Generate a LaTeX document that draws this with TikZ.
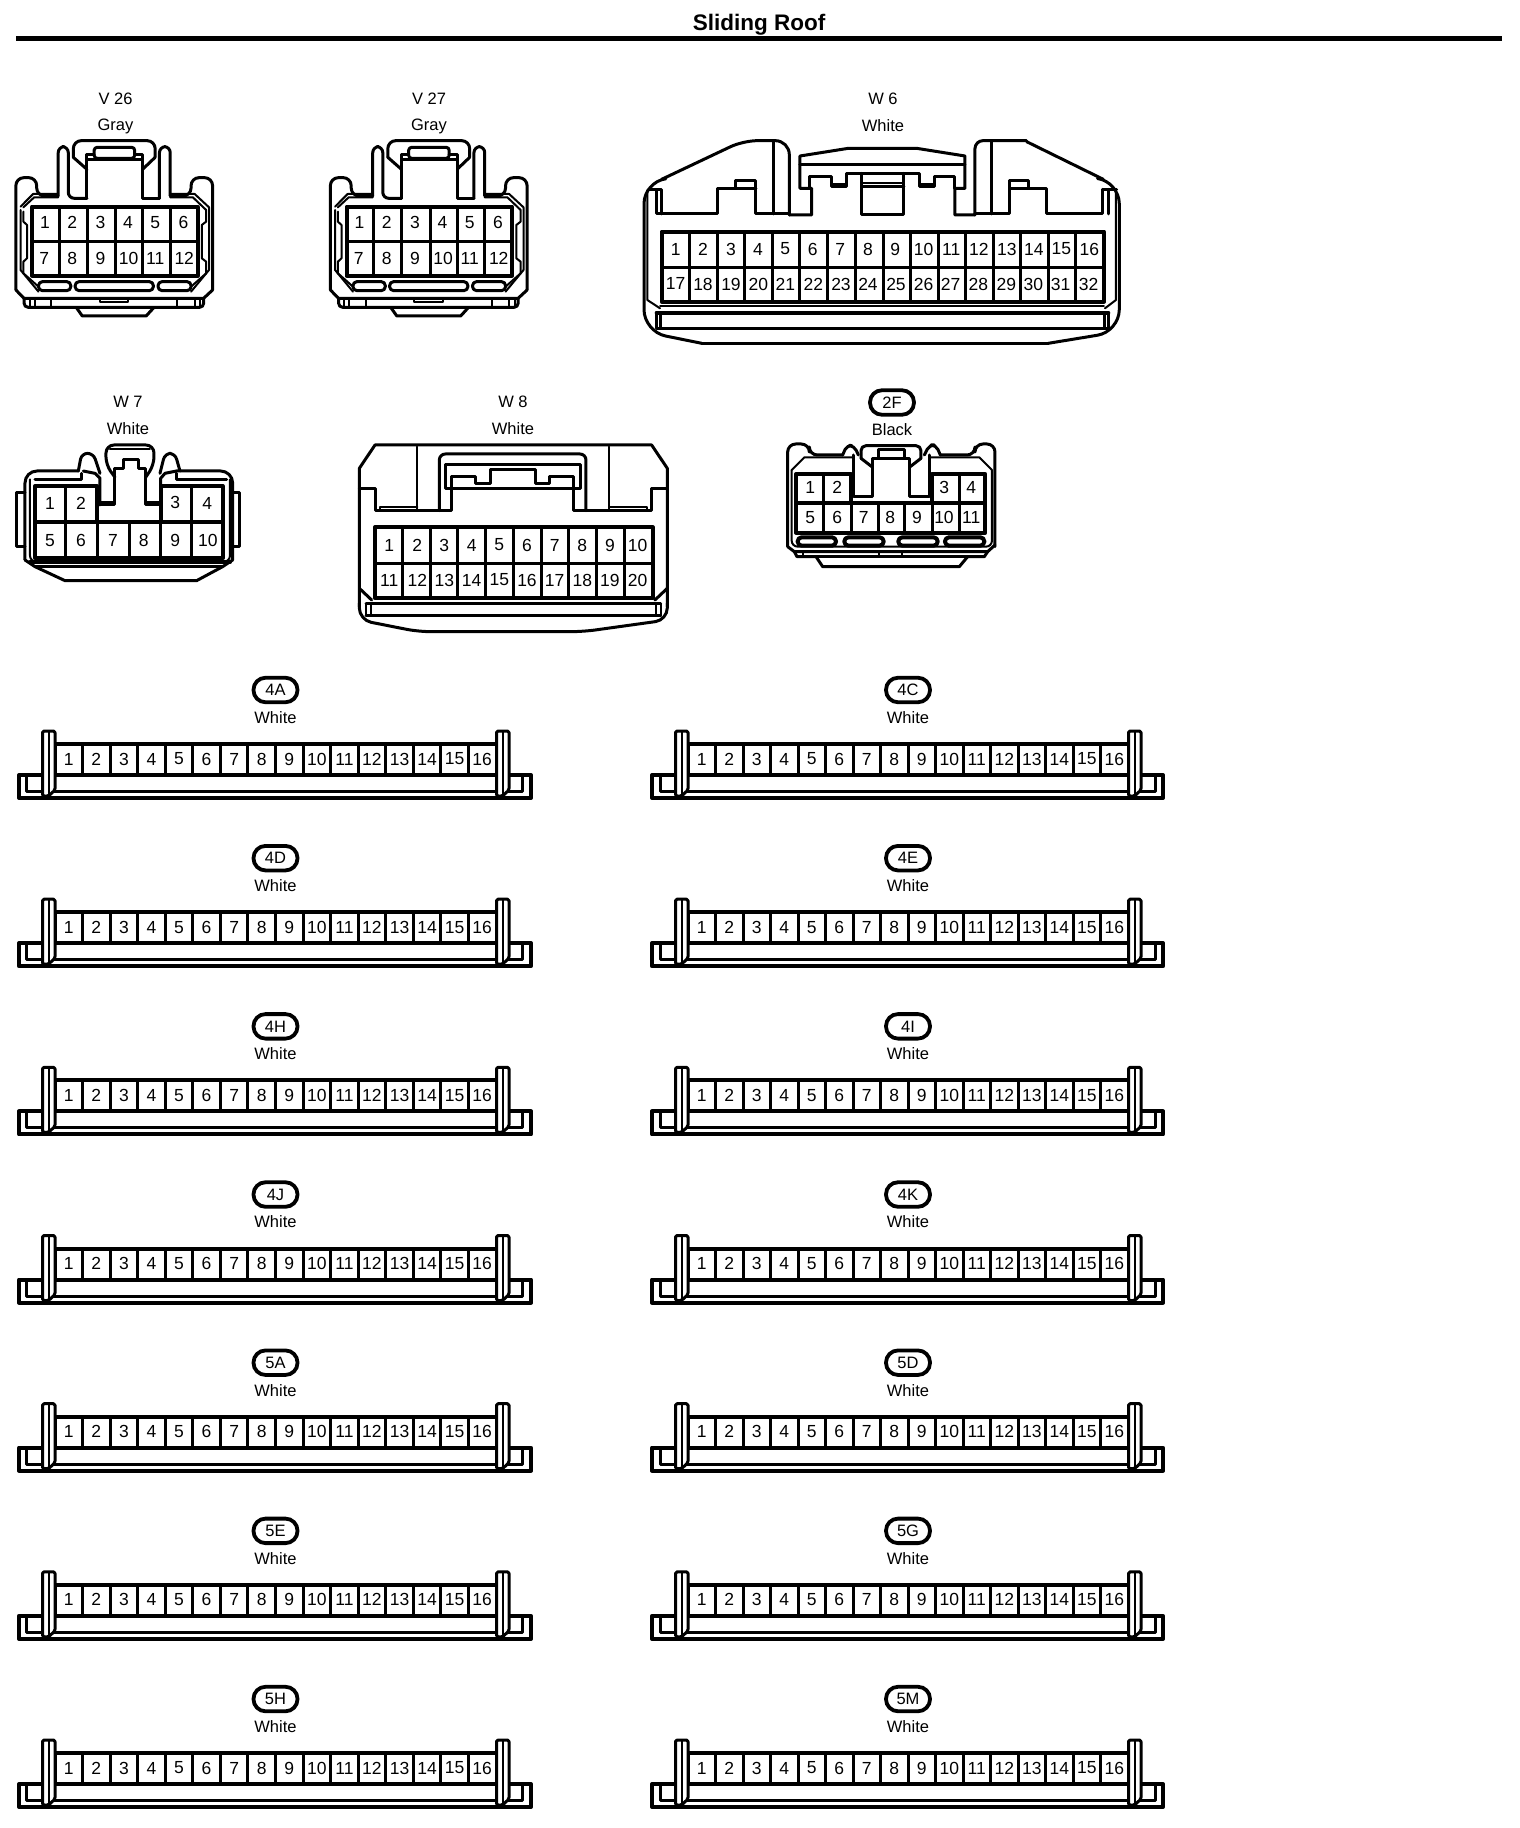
\documentclass[tikz,border=0pt]{standalone}
\usepackage{fontspec}
\setmainfont{Liberation Sans}
\newcommand{\numf}{\fontsize{17.5}{18}\selectfont}
\newcommand{\labf}{\fontsize{16.5}{18}\selectfont}
\newcommand{\titf}{\fontsize{22.5}{24}\selectfont\bfseries}
\tikzset{
  wire/.style={line width=3pt,line join=round,line cap=round},
  fine/.style={line width=2pt,line join=round,line cap=round},
  heavy/.style={line width=4pt,line join=round,line cap=round},
  num/.style={font=\numf,inner sep=0pt,text=black},
  lab/.style={font=\labf,inner sep=0pt,text=black},
  capsule/.style={draw,line width=3.8pt,rounded corners=12pt,minimum width=44pt,minimum height=24.5pt,inner sep=0pt,font=\labf},
  slot/.style={wire,rounded corners=4pt},
}
% grid cell numbers: name, list of centre x, y, start number
\newcommand{\numrow}[4]{\foreach \cx [count=\ci from #4] in {#2} {\node[num] (#1-\ci) at (\cx,#3) {\ci};}}
% small connector V26/V27
\newcommand{\vcon}[3]{%
\begin{scope}[shift={(#2pt,-70pt)},x=0.359pt,y=-0.3333pt]
 % outer housing
 \draw[wire,rounded corners=8pt] (47,660)--(47,323)--(105,323)--(105,378)--(165,378);
 \draw[wire,rounded corners=6pt] (165,378)--(165,230)--(193,230)--(193,385)--(245,385);
 \draw[wire] (245,385)--(245,270)--(400,270)--(400,385)--(447,385);
 \draw[wire,rounded corners=6pt] (447,385)--(447,230)--(477,230)--(477,378);
 \draw[wire,rounded corners=8pt] (477,378)--(535,378)--(535,323)--(595,323)--(595,660);
 \draw[wire,rounded corners=8pt] (207,262)--(207,212)--(435,212)--(435,262);
 \draw[wire] (207,262)--(245,298) (435,262)--(400,298);
 \draw[wire] (245,270)--(245,255)--(265,255) (378,255)--(400,255)--(400,270);
 \draw[wire,rounded corners=3pt] (265,232) rectangle (378,265);
 % inner shell
 \draw[fine] (60,420)--(60,600)--(110,665);
 \draw[fine] (68,425)--(68,455)--(78,465)--(78,565)--(68,575)--(68,610)--(110,650);
 \draw[fine] (60,410)--(95,372)--(165,372) (477,372)--(545,372)--(585,412)--(585,600)--(535,665);
 \draw[fine] (68,412)--(98,382)--(165,382) (477,382)--(540,382)--(577,420)--(577,455)--(565,465)--(565,565)--(577,575)--(577,610)--(535,650);
 \draw[wire] (47,660)--(70,685)--(570,685)--(595,660);
 % slots
 \draw[slot] (110,635) rectangle (200,662);
 \draw[slot] (212,635) rectangle (430,662);
 \draw[slot] (443,635) rectangle (535,662);
 % base
 \draw[wire,rounded corners=4pt] (70,685)--(70,712)--(570,712)--(570,685);
 \draw[fine] (85,685)--(85,712) (100,685)--(100,712) (145,685)--(145,712) (497,685)--(497,712) (545,685)--(545,712) (560,685)--(560,712);
 \draw[fine] (280,685)--(280,697)--(360,697)--(360,685);
 \draw[wire] (215,712)--(232,738)--(410,738)--(432,712);
 % grid
 \draw[heavy] (92,410) rectangle (553,617);
 \draw[wire] (92,515)--(553,515);
 \foreach \vx in {168,246,325,401,477} \draw[wire] (\vx,410)--(\vx,617);
 \numrow{#1a}{128,204,283,359,435,514}{458}{1}
 \numrow{#1b}{126,204,283,361,435,516}{565}{7}
\end{scope}}
% wide strip connector
% name, label, row index, baseL, baseR, innerL, innerR, stripL, stripR
\newcommand{\strip}[9]{%
\begin{scope}[shift={(0pt,{-168.17pt*#3})},x=1pt,y=-1pt]
 \pgfmathsetmacro{\sw}{(#9-#8)/16}
 \node[capsule] (#1-cap) at ({(#4+#5)/2+0.5},690) {#2};
 \node[lab] (#1-col) at ({(#4+#5)/2+0.5},717.5) {White};
 \draw[heavy] (#4,775) rectangle (#5,798);
 \draw[wire] (#6,775)--(#6,791.5)--(#7,791.5)--(#7,775);
 \draw[heavy] (#8,744)--(#9,744);
 \draw[heavy] (#8,775)--(#9,775);
 \foreach \k in {0,...,16} \draw[wire] ({#8+\k*\sw},744)--({#8+\k*\sw},775);
 \foreach \k in {1,...,16} \node[num] (#1-\k) at ({#8+(\k-0.5)*\sw},759) {\k};
 \foreach \tx in {#8-12.5,#9+0.5} {
   \draw[wire,fill=white,rounded corners=1.5pt] (\tx,731)--({\tx+12.5},731)--({\tx+12.5},790)--({\tx+6},796)--(\tx,796)--cycle;
   \draw[fine] ({\tx+6},731)--({\tx+6},795);
 }
\end{scope}}
\begin{document}
\begin{tikzpicture}[x=1pt,y=-1pt]
\useasboundingbox (0,0) rectangle (1520,1828);
\fill[white] (0,0) rectangle (1520,1828);
\node[font=\titf,inner sep=0pt] (title) at (759,24.5) {Sliding Roof};
\coordinate (ruleL) at (16,38.5);
\coordinate (ruleR) at (1502,38.5);
\draw[line width=5pt] (ruleL)--(ruleR);
% V26 V27
\node[lab] (v26t) at (115.5,98.5) {V 26};
\node[lab] (v26c) at (115.5,126.5) {Gray};
\vcon{V26}{-1}{}
\node[lab] (v27t) at (429,98.5) {V 27};
\node[lab] (v27c) at (429,126.5) {Gray};
\vcon{V27}{313.5}{}
% W6
\node[lab] (w6t) at (883,98.5) {W 6};
\node[lab] (w6c) at (883,126) {White};
\begin{scope}[shift={(630pt,-70pt)},x=0.3333pt,y=-0.3333pt]
 \draw[wire,rounded corners=14pt] (478,435)--(478,212)--(340,212)--(95,328);
 \draw[wire,rounded corners=8pt] (1035,435)--(1035,212)--(1190,212);
 \draw[wire] (1190,215)--(1420,328);
 \draw[wire,rounded corners=22pt] (95,328)--(42,335)--(42,785)--(215,820);
 \draw[wire] (215,820)--(1255,820);
 \draw[wire,rounded corners=22pt] (1255,820)--(1468,785)--(1468,335)--(1420,328);
 \draw[wire] (430,212)--(430,432) (1085,212)--(1085,432);
 \draw[wire] (478,435)--(545,435)--(545,355)--(510,355)--(510,258)--(655,235)--(860,235)--(1005,258)--(1005,355)--(975,355)--(975,435)--(1035,435);
 \draw[wire] (510,285)--(1005,285);
 \draw[wire] (540,355)--(540,320)--(605,320)--(605,350)--(650,350)--(650,310)--(870,310)--(870,350)--(915,350)--(915,320)--(975,320)--(975,355);
 \draw[fine] (605,342)--(650,342) (870,342)--(915,342) (695,340)--(822,340);
 \draw[wire] (695,310)--(695,435)--(822,435)--(822,310);
 \draw[wire] (695,350)--(822,350);
 % side wells
 \draw[wire] (55,358)--(95,358)--(95,432) (80,360)--(80,432)--(262,432)--(262,355)--(378,355);
 \draw[wire] (318,355)--(318,332)--(378,332)--(378,432)--(478,432);
 \draw[wire] (1418,358)--(1418,432)--(1250,432)--(1250,355)--(1140,355);
 \draw[wire] (1197,355)--(1197,332)--(1140,332)--(1140,432)--(1035,432);
 \draw[wire] (1435,358)--(1435,432) (1418,358)--(1460,358);
 % inner walls
 \draw[fine] (52,360)--(52,690)--(90,715);
 \draw[fine] (1458,360)--(1458,690)--(1425,715);
 \draw[fine] (90,708)--(1422,708);
 \draw[heavy] (80,728)--(1435,728);
 \draw[wire] (80,775)--(1435,775) (80,728)--(80,775) (90,728)--(90,775) (1425,728)--(1425,775) (1435,728)--(1435,775);
 \draw[heavy] (95,485) rectangle (1422,695);
 \draw[wire] (95,592)--(1422,592);
 \foreach \vx in {178,263,345,428,510,594,677,760,842,925,1008,1090,1173,1255,1338} \draw[wire] (\vx,485)--(\vx,695);
 \numrow{W6a}{137,219,303,384,466,548,631,714,796,881,964,1047,1131,1212,1294,1378}{537}{1}
 \numrow{W6b}{137,219,303,385,466,550,633,714,798,881,962,1045,1129,1210,1292,1376}{642}{17}
\end{scope}
% W7
\node[lab] (w7t) at (128,402) {W 7};
\node[lab] (w7c) at (128,429) {White};
\begin{scope}[shift={(0pt,-390pt)},x=0.3333pt,y=-0.3333pt]
 \draw[wire,rounded corners=12pt] (235,243)--(75,243)--(75,510);
 \draw[wire,rounded corners=12pt] (530,243)--(698,243)--(698,510);
 \draw[wire] (75,510)--(105,530)--(195,572)--(590,572)--(668,530)--(698,510);
 \draw[wire] (105,530)--(668,530);
 \draw[fine,rounded corners=6pt] (90,268)--(90,515)--(690,515)--(690,268);
 \draw[heavy] (90,517)--(690,517);
 \draw[wire] (105,268)--(245,268)--(245,250) (530,250)--(530,268)--(680,268);
 \draw[wire] (75,308)--(50,308)--(50,470)--(75,470);
 \draw[wire] (698,308)--(720,308)--(720,470)--(698,470);
 % towers
 \draw[wire,rounded corners=6pt] (235,243)--(245,190)--(280,190)--(300,250);
 \draw[wire,rounded corners=6pt] (480,250)--(495,190)--(525,190)--(540,243);
 \draw[wire] (250,243)--(285,250)--(300,265)--(300,345) (530,243)--(495,250)--(482,265)--(482,345);
 % latch
 \draw[wire,rounded corners=8pt] (345,262)--(318,225)--(318,165)--(462,165)--(462,225)--(437,262);
 \draw[fine] (330,178)--(450,178);
 \draw[wire] (300,345)--(345,345)--(345,235)--(370,235)--(370,210)--(415,210)--(415,235)--(437,235)--(437,345)--(482,345);
 \draw[fine] (300,335)--(345,335) (437,335)--(482,335);
 % grid
 \draw[heavy] (105,397)--(105,288)--(292,288)--(292,397) (482,397)--(482,288)--(668,288)--(668,397);
 \draw[heavy] (105,397) rectangle (668,505);
 \foreach \vx in {198,292,388,482,575} \draw[wire] (\vx,397)--(\vx,505);
 \draw[wire] (198,288)--(198,397) (575,288)--(575,397);
 \node[num] (W7-1) at (150,340) {1};
 \node[num] (W7-2) at (243,340) {2};
 \node[num] (W7-3) at (526,337) {3};
 \node[num] (W7-4) at (622,340) {4};
 \numrow{W7b}{150,243,339,431,526,624}{452}{5}
\end{scope}
% W8
\node[lab] (w8t) at (513,402) {W 8};
\node[lab] (w8c) at (513,429) {White};
\begin{scope}[shift={(340pt,-390pt)},x=0.3333pt,y=-0.3333pt]
 \draw[wire] (58,650)--(58,235)--(105,165)--(935,165)--(982,235)--(982,650);
 \draw[wire,rounded corners=12pt] (982,640)--(982,690)--(730,725)--(235,725)--(58,690)--(58,640);
 \draw[wire] (58,295)--(105,295)--(105,362)--(335,362)--(335,260)--(408,260)--(408,282)--(452,282)--(452,240)--(588,240)--(588,282)--(630,282)--(630,260)--(702,260)--(702,362)--(935,362)--(935,295)--(982,295);
 \draw[wire] (318,225) rectangle (722,295);
 \draw[wire,rounded corners=6pt] (298,362)--(298,192)--(738,192)--(738,362);
 \draw[fine] (232,170)--(232,362) (808,170)--(808,362);
 \draw[fine] (120,362)--(120,352)--(232,352) (808,352)--(920,352)--(920,362);
 \draw[wire] (58,595)--(95,630) (982,595)--(945,630);
 \draw[wire] (78,642)--(962,642) (78,678)--(962,678);
 \draw[fine] (78,642)--(78,678) (92,642)--(92,678) (948,642)--(948,678) (962,642)--(962,678);
 \draw[heavy] (105,412) rectangle (938,625);
 \draw[wire] (105,520)--(938,520);
 \foreach \vx in {188,272,354,437,520,604,686,770,853} \draw[wire] (\vx,412)--(\vx,625);
 \numrow{W8a}{148,232,313,395,478,561,644,727,810,893}{465}{1}
 \numrow{W8b}{148,232,313,395,478,561,644,727,810,893}{570}{11}
\end{scope}
% 2F
\node[capsule] (f2t) at (892,402.5) {2F};
\node[lab] (f2c) at (892,429.5) {Black};
\begin{scope}[shift={(771pt,-380pt)},x=0.3333pt,y=-0.3333pt]
 \draw[wire,rounded corners=8pt] (50,500)--(50,192)--(115,192)--(115,225)--(215,225);
 \draw[wire,rounded corners=8pt] (508,225)--(612,225)--(612,192)--(672,192)--(672,500);
 \draw[wire] (50,500)--(70,515)--(650,515)--(672,495);
 \draw[fine] (62,270)--(100,232)--(245,232) (478,232)--(625,232)--(663,270);
 \draw[fine,rounded corners=6pt] (62,270)--(62,500)--(663,500)--(663,270);
 \draw[wire,rounded corners=5pt] (215,225)--(228,195)--(250,198)--(262,225);
 \draw[wire,rounded corners=5pt] (460,225)--(475,195)--(495,195)--(508,225);
 \draw[wire] (247,225)--(247,350)--(305,350)--(305,235)--(415,235)--(415,350)--(475,350)--(475,225);
 \draw[wire] (270,235)--(305,262) (450,235)--(415,262);
 \draw[wire,rounded corners=5pt] (270,235)--(270,197)--(450,197)--(450,235);
 \draw[wire] (322,210) rectangle (400,235);
 \draw[wire] (70,515)--(78,530)--(135,530)--(155,560)--(565,560)--(590,530)--(640,530)--(650,515);
 \draw[wire] (135,530)--(590,530);
 \draw[fine] (95,515)--(95,530) (325,515)--(325,530) (393,515)--(393,530);
 \foreach \sa/\sb in {80/195,220/338,382/500,522/640} \draw[heavy,rounded corners=4pt] (\sa,472) rectangle (\sb,497);
 \draw[heavy] (75,370)--(75,282)--(241,282)--(241,370) (484,370)--(484,282)--(643,282)--(643,370);
 \draw[heavy] (75,370) rectangle (643,458);
 \foreach \vx in {158,241,323,401,484,565} \draw[wire] (\vx,370)--(\vx,458);
 \draw[wire] (158,282)--(158,370) (565,282)--(565,370);
 \node[num] (F2-1) at (118,322) {1};
 \node[num] (F2-2) at (199,322) {2};
 \node[num] (F2-3) at (520,322) {3};
 \node[num] (F2-4) at (601,322) {4};
 \numrow{F2b}{118,199,278,358,438,519,601}{412}{5}
\end{scope}
% strips
\strip{A4}{4A}{0}{19}{531}{26}{522}{55}{496}
\strip{C4}{4C}{0}{652}{1163}{660}{1155}{688}{1128}
\strip{D4}{4D}{1}{19}{531}{26}{522}{55}{496}
\strip{E4}{4E}{1}{652}{1163}{660}{1155}{688}{1128}
\strip{H4}{4H}{2}{19}{531}{26}{522}{55}{496}
\strip{I4}{4I}{2}{652}{1163}{660}{1155}{688}{1128}
\strip{J4}{4J}{3}{19}{531}{26}{522}{55}{496}
\strip{K4}{4K}{3}{652}{1163}{660}{1155}{688}{1128}
\strip{A5}{5A}{4}{19}{531}{26}{522}{55}{496}
\strip{D5}{5D}{4}{652}{1163}{660}{1155}{688}{1128}
\strip{E5}{5E}{5}{19}{531}{26}{522}{55}{496}
\strip{G5}{5G}{5}{652}{1163}{660}{1155}{688}{1128}
\strip{H5}{5H}{6}{19}{531}{26}{522}{55}{496}
\strip{M5}{5M}{6}{652}{1163}{660}{1155}{688}{1128}
\end{tikzpicture}
\end{document}
